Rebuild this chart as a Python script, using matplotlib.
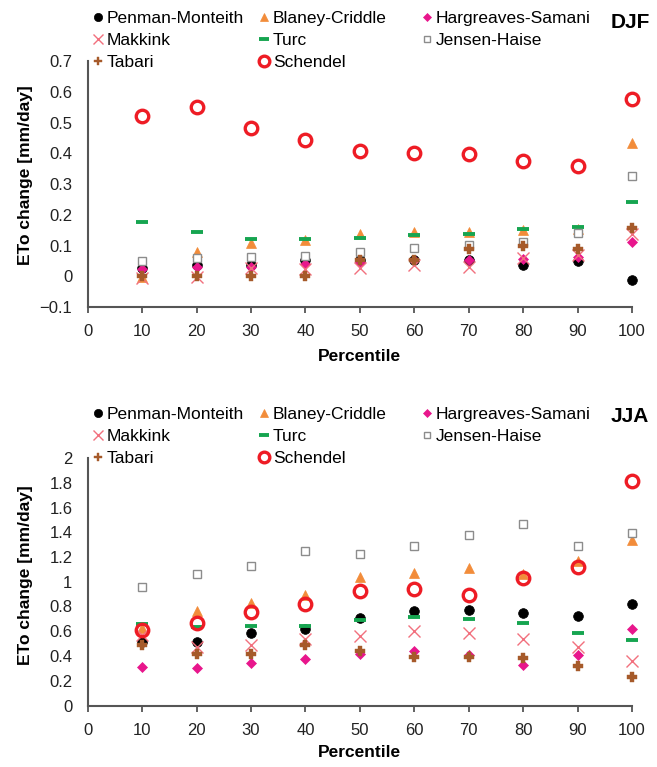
import numpy as np
import matplotlib
matplotlib.use("Agg")
import matplotlib.pyplot as plt
from matplotlib.ticker import MultipleLocator, FuncFormatter

plt.rcParams['font.family'] = ['Liberation Sans', 'DejaVu Sans']

# percentiles on the x axis
percentile = [10, 20, 30, 40, 50, 60, 70, 80, 90, 100]

# DJF ETo change [mm/day]
djf_penman = [0.027, 0.036, 0.036, 0.052, 0.052, 0.052, 0.052, 0.036, 0.050, -0.011]
djf_blaney = [-0.003, 0.079, 0.109, 0.119, 0.136, 0.144, 0.144, 0.152, 0.155, 0.432]
djf_hargreaves = [0.022, 0.030, 0.030, 0.041, 0.047, 0.052, 0.052, 0.055, 0.061, 0.112]
djf_makkink = [-0.005, -0.002, 0.028, 0.025, 0.028, 0.036, 0.030, 0.058, 0.068, 0.139]
djf_turc = [0.176, 0.145, 0.122, 0.122, 0.125, 0.135, 0.136, 0.153, 0.161, 0.243]
djf_jensen = [0.048, 0.058, 0.062, 0.066, 0.079, 0.093, 0.103, 0.112, 0.142, 0.327]
djf_tabari = [0.0, 0.0, 0.0, 0.0, 0.054, 0.054, 0.090, 0.098, 0.090, 0.157]
djf_schendel = [0.522, 0.549, 0.483, 0.442, 0.406, 0.402, 0.397, 0.375, 0.357, 0.577]

# JJA ETo change [mm/day]
jja_penman = [0.512, 0.512, 0.588, 0.620, 0.706, 0.760, 0.768, 0.747, 0.722, 0.822]
jja_blaney = [0.63, 0.76, 0.827, 0.889, 1.038, 1.070, 1.110, 1.065, 1.164, 1.334]
jja_hargreaves = [0.310, 0.302, 0.345, 0.377, 0.418, 0.439, 0.412, 0.329, 0.412, 0.615]
jja_makkink = [0.566, 0.470, 0.485, 0.539, 0.561, 0.601, 0.588, 0.534, 0.472, 0.356]
jja_turc = [0.660, 0.633, 0.639, 0.639, 0.687, 0.714, 0.698, 0.663, 0.588, 0.531]
jja_jensen = [0.957, 1.059, 1.124, 1.248, 1.224, 1.291, 1.380, 1.469, 1.291, 1.394]
jja_tabari = [0.485, 0.418, 0.418, 0.485, 0.439, 0.391, 0.391, 0.385, 0.318, 0.229]
jja_schendel = [0.612, 0.666, 0.755, 0.822, 0.922, 0.943, 0.889, 1.032, 1.119, 1.814]

methods = ["Penman-Monteith", "Blaney-Criddle", "Hargreaves-Samani", "Makkink",
           "Turc", "Jensen-Haise", "Tabari", "Schendel"]

# marker styles per method (same order as methods)
styles = [
    dict(marker='o', ms=7, color='black', mfc='black', mew=0.5),
    dict(marker='^', ms=7.5, color='#F28C3A', mfc='#F28C3A', mew=0.5),
    dict(marker='D', ms=5, color='#E8168C', mfc='#E8168C', mew=0.5),
    dict(marker='x', ms=8, color='#F2707E', mew=1.0),
    dict(marker='_', ms=8, color='#16A550', mew=2.8),
    dict(marker='s', ms=5.5, color='#8C8C8C', mfc='white', mew=1.0),
    dict(marker='P', ms=7, color='#A65A2A', mfc='#A65A2A', mew=0.3),
    dict(marker='o', ms=9, color='#EE1C25', mfc='none', mew=2.4),
]

panels = [
    ("DJF", [djf_penman, djf_blaney, djf_hargreaves, djf_makkink, djf_turc,
             djf_jensen, djf_tabari, djf_schendel], (-0.1, 0.7), 0.1),
    ("JJA", [jja_penman, jja_blaney, jja_hargreaves, jja_makkink, jja_turc,
             jja_jensen, jja_tabari, jja_schendel], (0, 2), 0.2),
]

W, H = 657, 767
fig = plt.figure(figsize=(W / 100, H / 100), dpi=100)

ax_boxes = [[87.7 / W, 1 - 307 / H, 544.3 / W, 246 / H],
            [87.7 / W, 1 - 705.5 / H, 544.3 / W, 247.5 / H]]
legend_tops = [11, 407]
ylabel_y = [0.535, 0.525]
xlabel_y = [-0.2, -0.19]

def fmt(v, pos):
    s = '%g' % round(v, 2)
    return s.replace('-', '\u2212')

spine_col = '#555555'

for i, (season, series, ylim, step) in enumerate(panels):
    ax = fig.add_axes(ax_boxes[i])
    handles = []
    for name, vals, st in zip(methods, series, styles):
        h, = ax.plot(percentile, vals, linestyle='none', label=name,
                     clip_on=False, **st)
        handles.append(h)

    ax.set_xlim(0, 100)
    ax.set_ylim(*ylim)
    ax.xaxis.set_major_locator(MultipleLocator(10))
    ax.yaxis.set_major_locator(MultipleLocator(step))
    ax.yaxis.set_major_formatter(FuncFormatter(fmt))
    for s in ['top', 'right']:
        ax.spines[s].set_visible(False)
    for s in ['left', 'bottom']:
        ax.spines[s].set_color(spine_col)
        ax.spines[s].set_linewidth(1.5)
    ax.tick_params(axis='x', direction='out', length=4.5, width=1.3,
                   color=spine_col, labelsize=12, pad=8, labelcolor='#222222')
    ax.tick_params(axis='y', length=0, labelsize=12, pad=11, labelcolor='#222222')

    ax.set_xlabel("Percentile", fontsize=12.5, fontweight='bold')
    ax.xaxis.label.set_va('center')
    ax.xaxis.set_label_coords(0.5, xlabel_y[i])
    ax.set_ylabel("ETo change [mm/day]", fontsize=12.5, fontweight='bold')
    ax.yaxis.label.set_va('center')
    ax.yaxis.set_label_coords(-0.115, ylabel_y[i])

    # legend in three columns, placed above the axes
    cols = [[0, 3, 6], [1, 4, 7], [2, 5]]
    col_x = [93, 258.8, 422.2]
    for cx, idx in zip(col_x, cols):
        fig.legend([handles[k] for k in idx], [methods[k] for k in idx],
                   loc='upper left', bbox_to_anchor=(cx / W, 1 - legend_tops[i] / H),
                   frameon=False, fontsize=12.5, borderpad=0, borderaxespad=0,
                   handlelength=0.6, handletextpad=0.2, labelspacing=0.4,
                   numpoints=1, markerscale=0.85)

    fig.text(630 / W, 1 - (22 if i == 0 else 417) / H, season,
             ha='center', va='center', fontsize=15, fontweight='bold')

fig.savefig("out.png", dpi=100)
